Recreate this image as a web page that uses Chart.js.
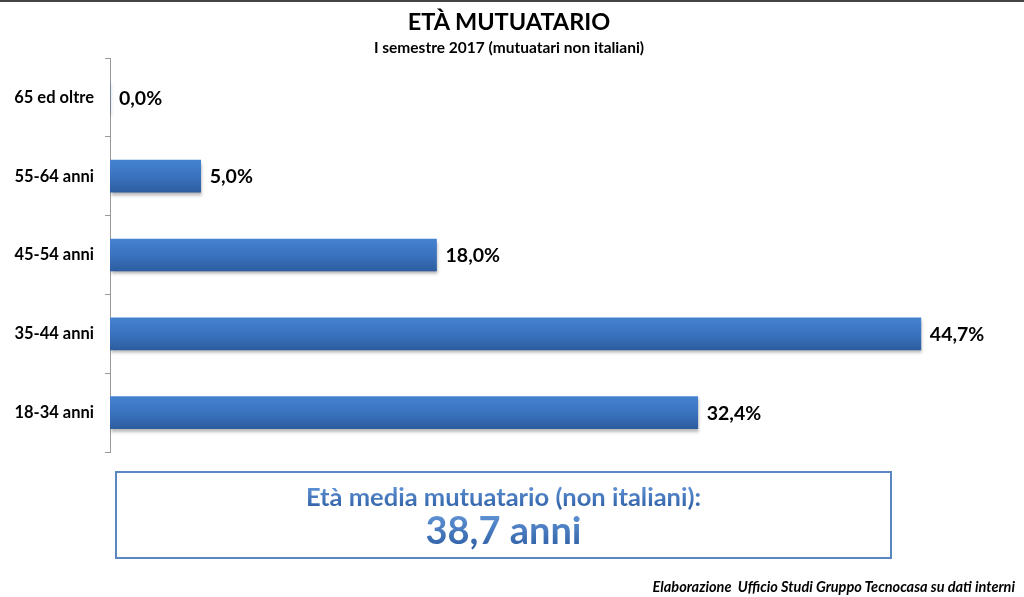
<!DOCTYPE html>
<html>
<head>
<meta charset="utf-8">
<script src="https://cdn.jsdelivr.net/npm/chart.js@4"></script>
<style>
  body { margin: 0; background: #fff; }
  #wrap { position: relative; width: 1024px; height: 597px; overflow: hidden; border-top: 2px solid #444; box-sizing: border-box; }
  #title { position: absolute; left: 0; width: 1018px; top: 5px; text-align: center; font: bold 23.5px Lato, sans-serif; color: #000; }
  #sub { position: absolute; left: 0; width: 1018px; top: 36px; text-align: center; font: bold 15.5px Lato, sans-serif; color: #000; }
  #box { position: absolute; left: 115px; top: 469px; width: 773px; height: 84px; border: 2px solid #5b87c0; text-align: center; }
  #box .a, #box .b { font-family: Lato, sans-serif; font-weight: bold; background: linear-gradient(#6b9fe0, #2a5aa0); -webkit-background-clip: text; background-clip: text; color: transparent; }
  #box .a { position: absolute; left: 0; right: 0; top: 8px; font-size: 25.5px; }
  #box .b { position: absolute; left: 0; right: 0; top: 33px; font-size: 38px; }
  #foot { position: absolute; right: 9px; top: 576px; font: italic bold 14.5px Lato, sans-serif; color: #000; }
</style>
</head>
<body>
<div id="wrap">
  <canvas id="c" width="1024" height="595"></canvas>
  <div id="title">ETÀ MUTUATARIO</div>
  <div id="sub">I semestre 2017 (mutuatari non italiani)</div>
  <div id="box"><div class="a">Età media mutuatario (non italiani):</div><div class="b">38,7 anni</div></div>
  <div id="foot">Elaborazione&nbsp; Ufficio Studi Gruppo Tecnocasa su dati interni</div>
</div>
<script>
// categories and values (percent)
var categories = ['65 ed oltre', '55-64 anni', '45-54 anni', '35-44 anni', '18-34 anni'];
var shares = [0.0, 5.0, 18.0, 44.7, 32.4];

var barColor = function (ctx) {
    var chart = ctx.chart;
    if (!chart.chartArea || !chart.scales.y) return '#3a70ba';
    var y = chart.scales.y.getPixelForValue(ctx.dataIndex);
    var g = chart.ctx.createLinearGradient(0, y - 16, 0, y + 16);
    g.addColorStop(0, '#4482d0');
    g.addColorStop(0.5, '#3a73bf');
    g.addColorStop(1, '#2d5d9f');
    return g;
};

var barShadow = {
    id: 'barShadow',
    beforeDatasetDraw: function (chart) {
        var c = chart.ctx;
        c.save();
        c.shadowColor = 'rgba(0,0,0,0.3)';
        c.shadowOffsetY = 3;
        c.shadowOffsetX = 1;
        c.shadowBlur = 3;
    },
    afterDatasetDraw: function (chart) {
        chart.ctx.restore();
    }
};

var valueLabels = {
    id: 'valueLabels',
    afterDatasetsDraw: function (chart) {
        var c = chart.ctx;
        var meta = chart.getDatasetMeta(0);
        c.save();
        c.font = 'bold 19.5px Lato, sans-serif';
        c.fillStyle = '#000';
        c.textBaseline = 'middle';
        meta.data.forEach(function (bar, i) {
            c.fillText(shares[i].toFixed(1).replace('.', ',') + '%', bar.x + 9, bar.y + 1);
        });
        c.restore();
    }
};

new Chart(document.getElementById('c'), {
    type: 'bar',
    data: {
        labels: categories,
        datasets: [{
            data: shares,
            backgroundColor: barColor,
            borderWidth: 0,
            barThickness: 32
        }]
    },
    options: {
        indexAxis: 'y',
        responsive: false,
        animation: false,
        layout: { padding: { top: 56, bottom: 145, right: 7, left: 0 } },
        plugins: { legend: { display: false }, tooltip: { enabled: false } },
        scales: {
            x: { display: false, min: 0, max: 50 },
            y: {
                border: { color: '#999', width: 1 },
                grid: { drawOnChartArea: false, color: '#999', tickLength: 5, offset: true },
                ticks: { color: '#000', font: { family: 'Lato, sans-serif', size: 16.5, weight: 'bold' }, padding: 11 },
                afterFit: function (s) { s.width = 110; }
            }
        }
    },
    plugins: [barShadow, valueLabels]
});
</script>
</body>
</html>
